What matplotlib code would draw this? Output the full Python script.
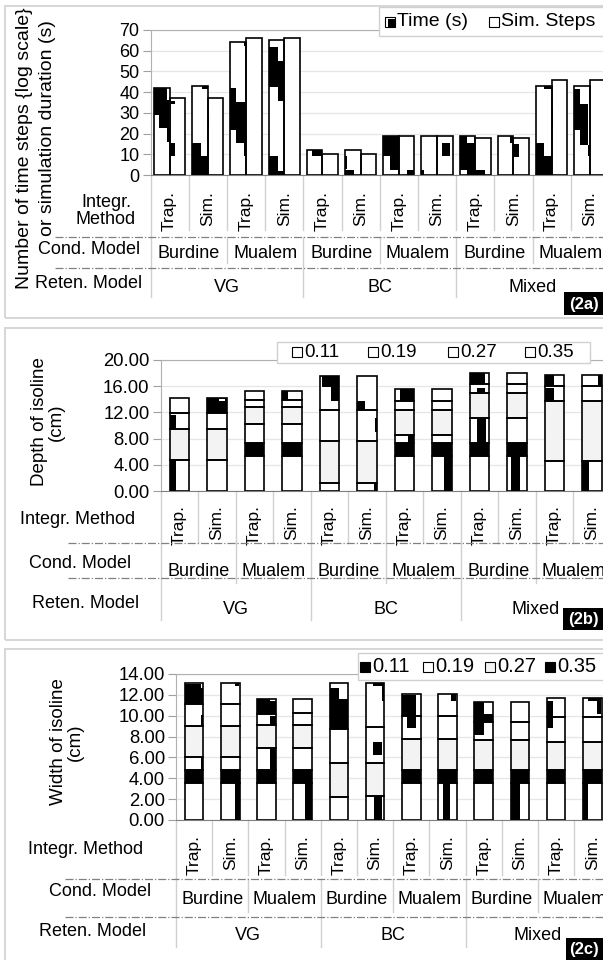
import numpy as np
import matplotlib
matplotlib.use("Agg")
import matplotlib.pyplot as plt
from matplotlib.patches import Rectangle
from matplotlib.lines import Line2D
from matplotlib.transforms import blended_transform_factory

plt.rcParams["font.family"] = ["Liberation Sans", "DejaVu Sans"]

W, H = 603, 960

# ---- categories (VG/BC/Mixed x Burdine/Mualem x Trap./Sim.) ----
integr_methods = ["Trap.", "Sim."] * 6
cond_models = ["Burdine", "Mualem"] * 3
reten_models = ["VG", "BC", "Mixed"]

# ---- (2a) ----
time_s = [42, 43, 64, 65, 12, 12, 19, 19, 19, 19, 43, 43]
sim_steps = [37, 37, 66, 66, 10, 10, 19, 19, 18, 18, 46, 46]

# ---- (2b) depth of isoline, stacked levels per bar (cm) ----
depth_levels = [
    [4.73, 9.41, 11.86, 14.15],
    [4.73, 9.41, 11.86, 14.15],
    [5.34, 7.38, 10.3, 12.8, 13.9, 15.3],
    [5.34, 7.38, 10.3, 12.8, 13.9, 15.3],
    [1.27, 7.63, 12.37, 17.56],
    [1.27, 7.63, 12.37, 17.56],
    [5.34, 7.38, 8.5, 12.37, 13.8, 15.5],
    [5.34, 7.38, 8.5, 12.37, 13.8, 15.5],
    [5.34, 7.38, 11.2, 14.9, 16.3, 17.96],
    [5.34, 7.38, 11.2, 14.9, 16.3, 17.96],
    [4.63, 13.8, 16.0, 17.66],
    [4.63, 13.8, 16.0, 17.66],
]

# ---- (2c) width of isoline, stacked levels per bar (cm) ----
width_levels = [
    [3.53, 4.81, 6.03, 9.04, 11.15, 13.14],
    [3.53, 4.81, 6.03, 9.04, 11.15, 13.14],
    [3.53, 4.81, 6.89, 9.13, 10.19, 11.6],
    [3.53, 4.81, 6.89, 9.13, 10.26, 11.6],
    [2.24, 5.51, 8.72, 13.14],
    [2.31, 5.51, 8.91, 13.14],
    [3.53, 4.81, 7.76, 10.0, 12.08],
    [3.53, 4.81, 7.76, 10.0, 12.08],
    [3.53, 4.81, 7.63, 9.36, 11.28],
    [3.53, 4.81, 7.63, 9.36, 11.28],
    [3.53, 4.81, 7.44, 9.87, 11.7],
    [3.53, 4.81, 7.44, 9.87, 11.7],
]

# ---- styles: segment fills and the blotchy pattern texture ----
FILL = {"w": "white", "g": "#f3f3f3", "k": "black"}

depth_fills = [
    "wgww", "wgwk", "wkwgww", "wkwgww", "wgww", "wgww",
    "wkwgww", "wkwgww", "wkwgww", "wkwgww", "wgww", "wgww",
]
width_fills = [
    "wkwgww", "wkwgww", "wkwgww", "wkwgww", "wgww", "wgww",
    "wkgww", "wkgww", "wkgww", "wkgww", "wkgww", "wkgww",
]

# (bar, segment, x0, x1, y0, y1, colour) as fractions of the segment
time_tex = [
    (0, 0, 0, .85, .86, 1), (0, 0, 0, .3, .69, 1), (0, 0, .3, .95, .54, .86), (0, 0, .85, 1, .38, .54),
    (1, 0, 0, .55, 0, .36), (1, 0, .55, 1, 0, .21), (1, 0, .6, 1, .97, 1),
    (2, 0, 0, .35, .34, .66), (2, 0, .35, 1, .24, .55), (2, 0, .9, 1, .97, 1), (2, 0, .9, 1, .14, .24),
    (3, 0, 0, .6, .65, .95), (3, 0, .6, 1, .55, .85), (3, 0, 0, .6, 0, .14), (3, 0, .6, 1, 0, .03),
    (4, 0, .35, 1, .77, 1),
    (5, 0, 0, .15, .25, .77), (5, 0, 0, .6, 0, .2),
    (6, 0, 0, 1, .48, 1), (6, 0, .45, 1, .13, .48),
    (7, 0, 0, .15, 0, .13),
    (8, 0, 0, .5, .13, 1), (8, 0, .5, 1, 0, .82),
    (9, 0, .8, 1, .82, 1),
    (10, 0, 0, .5, 0, .36), (10, 0, .5, 1, 0, .21), (10, 0, .5, 1, .97, 1),
    (11, 0, 0, .35, .5, .97), (11, 0, .35, .9, .34, .8), (11, 0, .9, 1, .21, .34),
]
steps_tex = [
    (0, 0, 0, .35, .93, .97), (0, 0, 0, .35, .25, .42),
    (1, 0, 0, .1, .6, .78),
    (6, 0, .5, 1, 0, .13),
    (7, 0, .3, .85, .48, .82),
    (8, 0, 0, .6, 0, .13),
    (9, 0, 0, .35, .48, .83),
    (10, 0, 0, .08, .5, .68),
]
depth_tex = [
    (0, 0, 0, .3, 0, 1), (0, 2, 0, .3, 0, .9),
    (1, 3, .62, .9, .85, .95, "w"),
    (3, 5, 0, .27, 0, 1),
    (4, 3, .1, 1, .67, 1), (4, 3, .6, 1, .27, .67),
    (5, 0, .85, 1, 0, 1), (5, 2, .9, 1, .3, .75), (5, 3, 0, .38, 0, .25),
    (6, 2, .68, 1, 0, 1), (6, 5, .25, 1, 0, 1),
    (7, 0, .6, 1, 0, 1),
    (8, 2, .38, .82, 0, 1), (8, 4, .38, .8, 0, .55), (8, 5, 0, .8, 0, 1),
    (9, 0, .2, .66, 0, 1),
    (10, 2, 0, .5, 0, .9), (10, 3, 0, .5, 0, 1),
    (11, 0, 0, .35, 0, 1), (11, 3, .8, 1, 0, 1),
]
width_tex = [
    (0, 2, .85, 1, 0, 1), (0, 4, .85, 1, 0, .5), (0, 5, 0, .85, 0, .97), (0, 5, .85, 1, 0, .75),
    (1, 0, .78, 1, 0, 1), (1, 5, .75, .95, .85, 1),
    (2, 2, .67, 1, 0, 1), (2, 4, .67, 1, 0, .8), (2, 5, 0, .67, 0, 1), (2, 5, .67, 1, 0, .85),
    (3, 0, .6, 1, 0, 1),
    (4, 3, 0, .5, 0, .9), (4, 3, .5, 1, 0, .65),
    (5, 0, .45, .85, 0, 1), (5, 2, .4, .85, .22, .57), (5, 3, .4, 1, .93, 1), (5, 3, .85, 1, .6, .93),
    (6, 4, 0, .75, 0, .97), (6, 3, .27, .75, .47, 1),
    (7, 0, .24, .64, 0, 1), (7, 4, .67, .97, .7, 1),
    (8, 3, 0, .5, .3, 1), (8, 4, 0, .5, 0, 1), (8, 4, .5, 1, 0, .4),
    (9, 0, 0, .5, 0, 1),
    (10, 3, 0, .35, .56, 1), (10, 4, 0, .35, 0, .82),
    (11, 0, 0, .27, 0, 1), (11, 4, .27, .75, .85, 1), (11, 4, .75, .95, .15, 1),
]

fig = plt.figure(figsize=(W / 100, H / 100), dpi=100)


def fx(x):
    return x / W


def fy(y):
    return 1 - y / H


def ftext(x, y, s, **kw):
    fig.text(fx(x), fy(y), s, **kw)


def make_axes(left, top, right, bottom):
    return fig.add_axes([fx(left), fy(bottom), (right - left) / W, (bottom - top) / H])


def draw_stack(ax, x, width, levels, fills, tex):
    levels = list(levels)
    bottoms = [0] + levels[:-1]
    heights = np.diff([0] + levels)
    n = len(levels)
    ax.bar([x] * n, heights, width, bottom=bottoms,
           color=[FILL[f] for f in fills], edgecolor="none", zorder=2)
    left = x - width / 2
    for t in tex:
        seg, x0, x1, y0, y1 = t[1:6]
        col = FILL[t[6]] if len(t) > 6 else "black"
        h = heights[seg]
        ax.bar(left + x0 * width, (y1 - y0) * h, (x1 - x0) * width,
               bottom=bottoms[seg] + y0 * h, align="edge", color=col,
               edgecolor="none", zorder=3)
    ax.bar([x] * n, heights, width, bottom=bottoms, fill=False,
           edgecolor="black", linewidth=1.2, zorder=4)


def style_axes(ax, ymax, yticks, fmt, tsize):
    ax.set_xlim(-0.5, 11.5)
    ax.set_ylim(0, ymax)
    ax.set_yticks(yticks)
    ax.set_yticklabels([fmt % v for v in yticks], fontsize=tsize)
    ax.set_xticks([])
    ax.grid(axis="y", color="#e6e6e6", linewidth=0.9, zorder=0)
    ax.set_axisbelow(True)
    for side in ["top", "left", "right"]:
        ax.spines[side].set_color("#b0b0b0")
    ax.spines["bottom"].set_color("#808080")
    ax.tick_params(axis="y", length=6, color="#a0a0a0", pad=2)


def draw_table(ax, t):
    tr = blended_transform_factory(ax.transData, fig.transFigure)
    ax_bottom = t["ax_bottom"]

    def vline(x, y0, y1):
        ax.add_line(Line2D([x, x], [fy(y0), fy(y1)], transform=tr, color="#d0d0d0",
                           linewidth=1.0, clip_on=False))

    for i, lab in enumerate(integr_methods):
        ax.text(i, fy(t["tick_top"]), lab, transform=tr, rotation=90, ha="center",
                va="top", fontsize=t["tfs"])
    for i in range(1, 12):
        vline(i - 0.5, ax_bottom, t["sep1"])
    for k, lab in enumerate(cond_models):
        ax.text(2 * k + 0.5, fy(t["cond_y"]), lab, transform=tr, ha="center",
                va="center", fontsize=t["fs"])
    for k in range(1, 6):
        vline(2 * k - 0.5, t["dd1"], t["sep2"] if k % 2 else t["sep3"])
    for k, lab in enumerate(reten_models):
        ax.text(4 * k + 1.5, fy(t["ret_y"]), lab, transform=tr, ha="center",
                va="center", fontsize=t["fs"])
    vline(-0.5, ax_bottom, t["sep3"])
    for yy in (t["dd1"], t["dd2"]):
        fig.add_artist(Line2D([fx(t["dd_x0"]), 1], [fy(yy), fy(yy)], color="#808080",
                              linewidth=0.9, linestyle="-."))
    for key, lab in (("integr", "Integr.\nMethod" if t["two_line"] else "Integr. Method"),
                     ("cond", "Cond. Model"), ("ret", "Reten. Model")):
        x, y = t[key]
        ftext(x, y, lab, ha="center", va="center", fontsize=t["fs"], linespacing=1.05)


def draw_legend(box, items, fs):
    x0, y0, x1, y1 = box
    fig.add_artist(Rectangle((fx(x0), fy(y1)), (x1 - x0) / W, (y1 - y0) / H,
                             transform=fig.transFigure, facecolor="white",
                             edgecolor="#d0d0d0", linewidth=1.0, zorder=5))
    yc = (y0 + y1) / 2
    s = 10
    for mx, tx, lab, style in items:
        fig.add_artist(Rectangle((fx(mx - s / 2), fy(yc + s / 2)), s / W, s / H,
                                 transform=fig.transFigure, facecolor=FILL.get(style, "white"),
                                 edgecolor="black", linewidth=0.8, zorder=6))
        if style == "half":
            fig.add_artist(Rectangle((fx(mx - s / 2 + 3), fy(yc + s / 2)), (s - 3) / W, (s - 3) / H,
                                     transform=fig.transFigure, facecolor="black",
                                     edgecolor="none", zorder=7))
        ftext(tx, yc, lab, ha="left", va="center", fontsize=fs, zorder=7)


def panel_frame(top, bottom, tag, tag_box):
    fig.add_artist(Rectangle((fx(5), fy(bottom)), (620 - 5) / W, (bottom - top) / H,
                             transform=fig.transFigure, facecolor="none",
                             edgecolor="#d6d6d6", linewidth=1.4))
    x0, y0, x1, y1 = tag_box
    fig.add_artist(Rectangle((fx(x0), fy(y1)), (x1 - x0) / W, (y1 - y0) / H,
                             transform=fig.transFigure, facecolor="black",
                             edgecolor="none", zorder=8))
    ftext((x0 + x1) / 2, (y0 + y1) / 2 + 0.5, tag, ha="center", va="center", color="white",
          fontsize=12, fontweight="bold", zorder=9)


# ================= (2a) =================
panel_frame(6, 318, "(2a)", (564, 292, 603, 315))
ax1 = make_axes(150.5, 30, 150.5 + 12 * 38.2, 175)
style_axes(ax1, 70, np.arange(0, 71, 10), "%d", 13)
x = np.arange(12)
for i in range(12):
    draw_stack(ax1, x[i] - 0.205, 0.41, [time_s[i]], "w", [t for t in time_tex if t[0] == i])
    draw_stack(ax1, x[i] + 0.205, 0.41, [sim_steps[i]], "w", [t for t in steps_tex if t[0] == i])
draw_table(ax1, dict(ax_bottom=175, tick_top=191, sep1=230, dd1=237, cond_y=254,
                     sep2=263, sep3=297, dd2=268, ret_y=287, dd_x0=55, fs=13, tfs=12.5,
                     two_line=True, integr=(106, 211), cond=(89, 249), ret=(89, 283)))
ftext(25, 148, "Number of time steps {log scale}", rotation=90,
      ha="center", va="center", fontsize=14)
ftext(47, 128, "or simulation duration (s)", rotation=90,
      ha="center", va="center", fontsize=14)
draw_legend((379, 7, 620, 36), [(390, 397, "Time (s)", "half"), (494, 501, "Sim. Steps", "w")], 14)

# ================= (2b) =================
panel_frame(328, 640, "(2b)", (563, 608, 603, 630))
ax2 = make_axes(160.7, 360, 160.7 + 12 * 37.5, 491)
style_axes(ax2, 20, np.arange(0, 20.1, 4), "%.2f", 13.3)
for i in range(12):
    draw_stack(ax2, i, 0.51, depth_levels[i], depth_fills[i], [t for t in depth_tex if t[0] == i])
draw_table(ax2, dict(ax_bottom=491, tick_top=505, sep1=543, dd1=543, cond_y=572,
                     sep2=583, sep3=620, dd2=578, ret_y=610, dd_x0=68, fs=13, tfs=12.5,
                     two_line=False, integr=(78, 520), cond=(80, 563), ret=(86, 604)))
ftext(48, 422, "Depth of isoline\n(cm)", rotation=90, ha="center", va="center",
      fontsize=13.5, linespacing=1.0)
draw_legend((277, 342, 590, 363), [(297, 304, "0.11", "w"), (373, 380, "0.19", "w"),
                                   (453, 460, "0.27", "w"), (530, 537, "0.35", "w")], 13.5)

# ================= (2c) =================
panel_frame(649, 975, "(2c)", (566, 938, 603, 960))
ax3 = make_axes(176, 674, 176 + 12 * 36.2, 820)
style_axes(ax3, 14, np.arange(0, 14.1, 2), "%.2f", 13.3)
for i in range(12):
    draw_stack(ax3, i, 0.51, width_levels[i], width_fills[i], [t for t in width_tex if t[0] == i])
draw_table(ax3, dict(ax_bottom=820, tick_top=835, sep1=875, dd1=879, cond_y=900,
                     sep2=912, sep3=947, dd2=917, ret_y=936, dd_x0=65, fs=13, tfs=12.5,
                     two_line=False, integr=(86, 850), cond=(100, 892), ret=(93, 932)))
ftext(67, 742, "Width of isoline\n(cm)", rotation=90, ha="center", va="center",
      fontsize=13.5, linespacing=1.0)
draw_legend((358, 653, 620, 680), [(365, 372, "0.11", "k"), (428, 435, "0.19", "w"),
                                   (490, 497, "0.27", "g"), (550, 557, "0.35", "k")], 14.5)

fig.savefig("out.png", dpi=100)
